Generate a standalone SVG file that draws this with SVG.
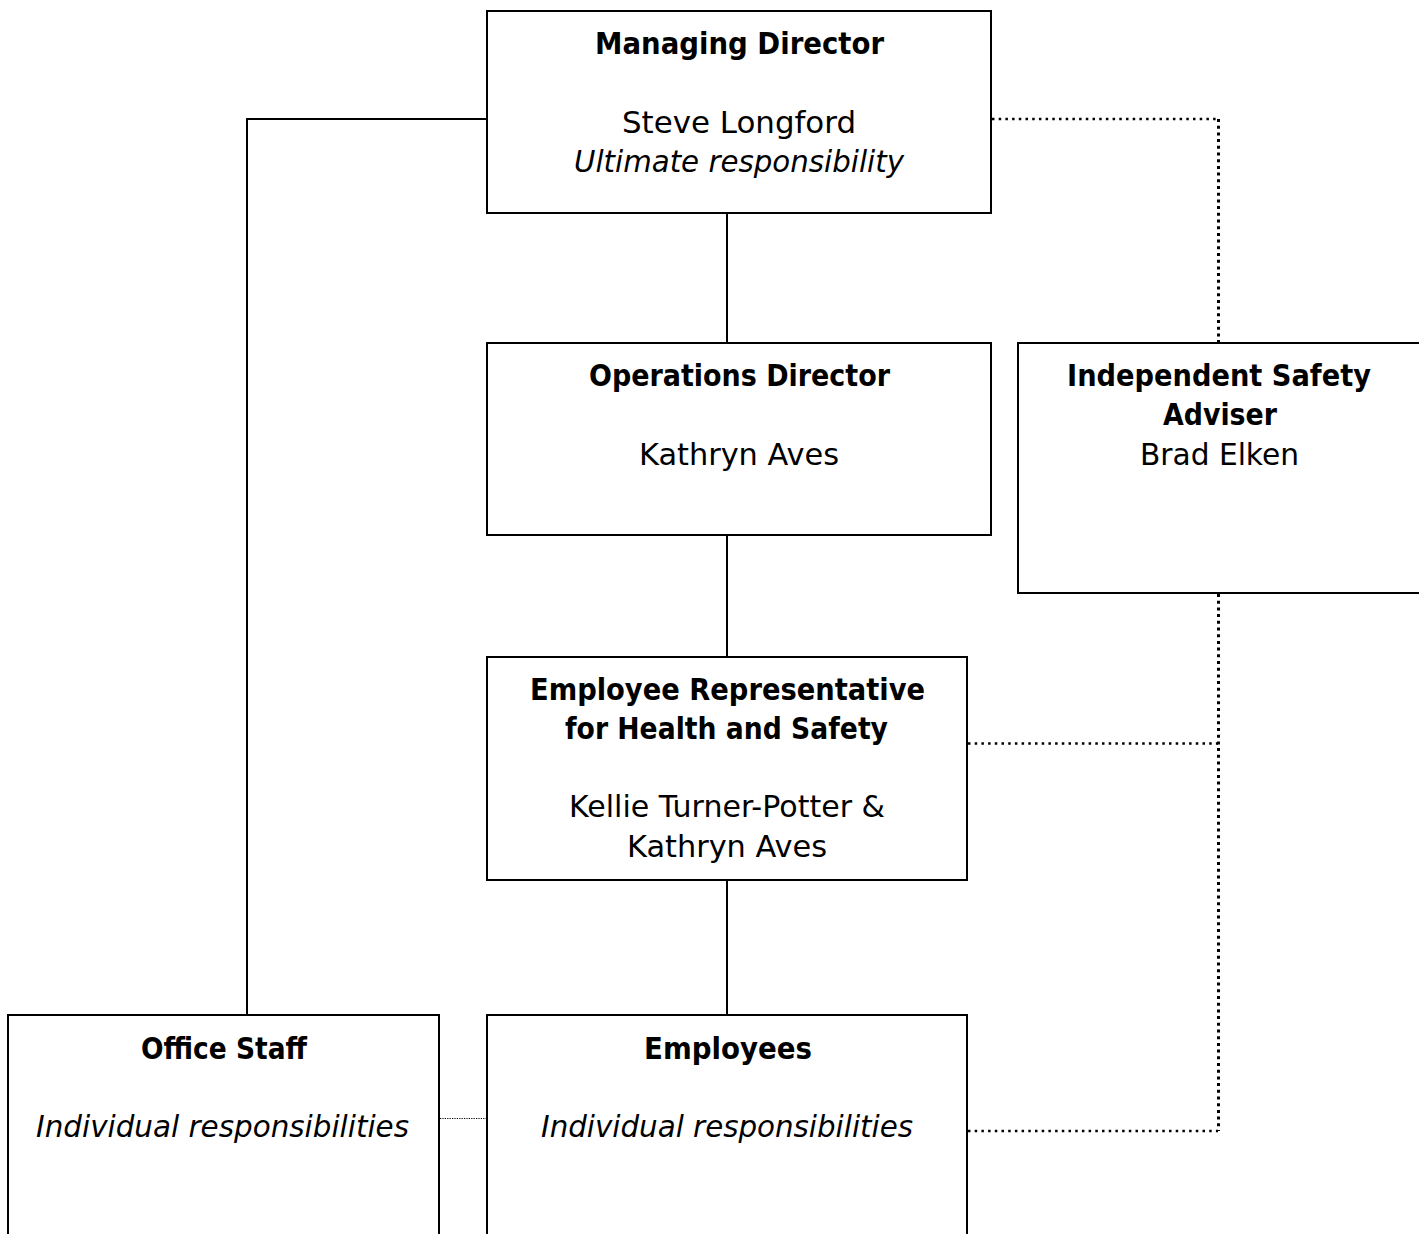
<svg xmlns="http://www.w3.org/2000/svg" width="1419" height="1234" viewBox="0 0 1419 1234">
<style>
.box{fill:#fff;stroke:#000;stroke-width:2}
.t{font-family:"DejaVu Sans","Liberation Sans",sans-serif;font-size:30px;fill:#000;text-anchor:middle}
.b{font-weight:bold}
.i{font-style:italic}
.solid{fill:none;stroke:#000;stroke-width:2}
.doth{fill:none;stroke:#000;stroke-width:2.5;stroke-dasharray:2.5 4.2}
.dotv{fill:none;stroke:#000;stroke-width:3;stroke-dasharray:3 3.7}
.thin{fill:none;stroke:#000;stroke-width:1.2;stroke-dasharray:1.2 1.2}
</style>
<rect width="1419" height="1234" fill="#fff"/>
<g id="connectors">
<polyline class="solid" points="487,119 247,119 247,1015"/>
<line class="solid" x1="727" y1="213" x2="727" y2="343"/>
<line class="solid" x1="727" y1="535" x2="727" y2="657"/>
<line class="solid" x1="727" y1="880" x2="727" y2="1015"/>
<line class="doth" x1="992" y1="119" x2="1218" y2="119"/>
<line class="dotv" x1="1218.5" y1="119" x2="1218.5" y2="343"/>
<line class="dotv" x1="1218.5" y1="594" x2="1218.5" y2="1131"/>
<line class="doth" x1="968" y1="1131" x2="1218" y2="1131"/>
<line class="doth" x1="968" y1="743.5" x2="1218" y2="743.5"/>
<line class="thin" x1="440" y1="1118.5" x2="487" y2="1118.5"/>
</g>
<g id="managing-director">
<rect class="box" x="487" y="11" width="504" height="202"/>
<text class="t b" x="739.5" y="54" textLength="289" lengthAdjust="spacingAndGlyphs">Managing Director</text>
<text class="t" x="739" y="133" textLength="234" lengthAdjust="spacingAndGlyphs">Steve Longford</text>
<text class="t i" x="739" y="172" textLength="330" lengthAdjust="spacingAndGlyphs">Ultimate responsibility</text>
</g>
<g id="operations-director">
<rect class="box" x="487" y="343" width="504" height="192"/>
<text class="t b" x="739.5" y="386" textLength="301" lengthAdjust="spacingAndGlyphs">Operations Director</text>
<text class="t" x="739" y="465" textLength="200" lengthAdjust="spacingAndGlyphs">Kathryn Aves</text>
</g>
<g id="independent-safety-adviser">
<rect class="box" x="1018" y="343" width="402" height="250"/>
<text class="t b" x="1219" y="386" textLength="304" lengthAdjust="spacingAndGlyphs">Independent Safety</text>
<text class="t b" x="1220" y="425" textLength="114" lengthAdjust="spacingAndGlyphs">Adviser</text>
<text class="t" x="1219.5" y="465" textLength="159" lengthAdjust="spacingAndGlyphs">Brad Elken</text>
</g>
<g id="employee-representative">
<rect class="box" x="487" y="657" width="480" height="223"/>
<text class="t b" x="727.5" y="700" textLength="395" lengthAdjust="spacingAndGlyphs">Employee Representative</text>
<text class="t b" x="726.5" y="739" textLength="323" lengthAdjust="spacingAndGlyphs">for Health and Safety</text>
<text class="t" x="727" y="817" textLength="316" lengthAdjust="spacingAndGlyphs">Kellie Turner-Potter &amp;</text>
<text class="t" x="727" y="857" textLength="200" lengthAdjust="spacingAndGlyphs">Kathryn Aves</text>
</g>
<g id="office-staff">
<rect class="box" x="8" y="1015" width="431" height="240"/>
<text class="t b" x="224" y="1059" textLength="166" lengthAdjust="spacingAndGlyphs">Office Staff</text>
<text class="t i" x="222.5" y="1137" textLength="373" lengthAdjust="spacingAndGlyphs">Individual responsibilities</text>
</g>
<g id="employees">
<rect class="box" x="487" y="1015" width="480" height="240"/>
<text class="t b" x="728" y="1059" textLength="168" lengthAdjust="spacingAndGlyphs">Employees</text>
<text class="t i" x="727" y="1137" textLength="372" lengthAdjust="spacingAndGlyphs">Individual responsibilities</text>
</g>
</svg>
